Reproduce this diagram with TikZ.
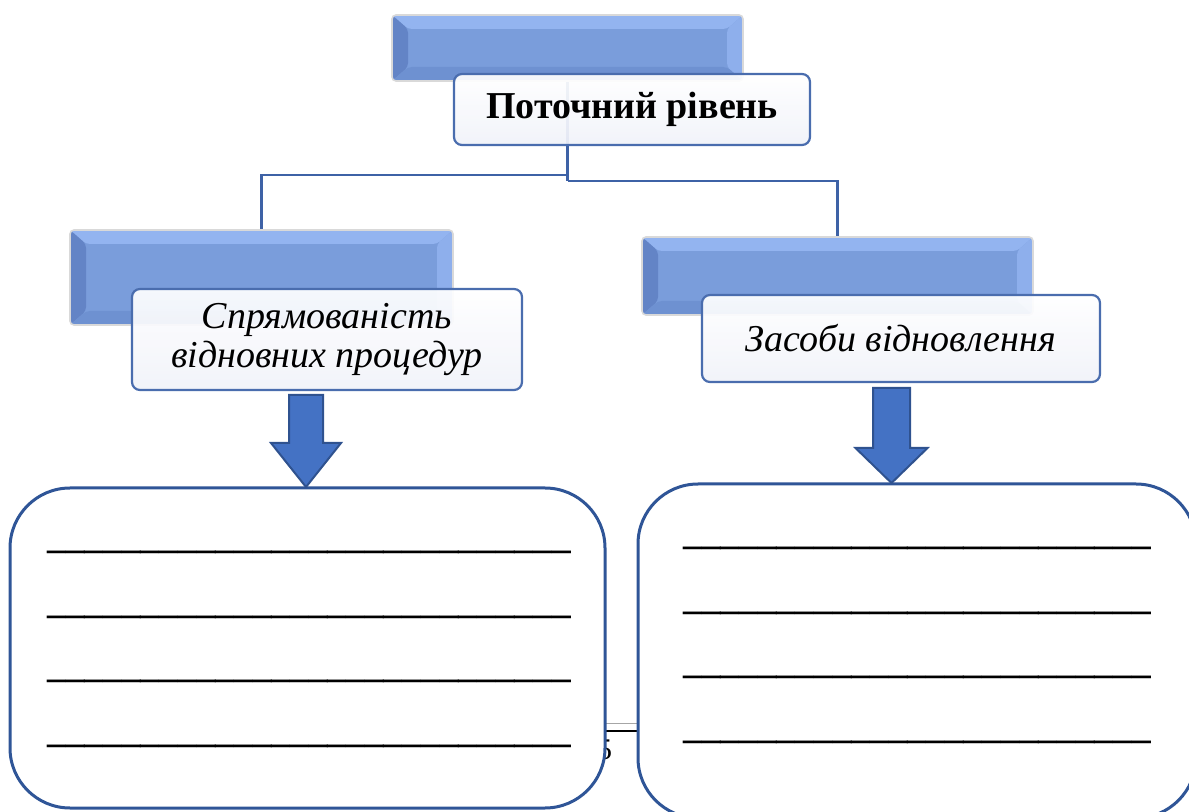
\documentclass[tikz,border=0pt]{standalone}
\usepackage{fontspec}
\setmainfont{Liberation Serif}
\usepackage{tikz}
\usetikzlibrary{calc}
\definecolor{BarMid}{HTML}{7A9DDB}
\definecolor{BarLight}{HTML}{93B4F0}
\definecolor{BarDark}{HTML}{6384C6}
\definecolor{Frame}{HTML}{4A6DAE}
\definecolor{Panel}{HTML}{2F5597}
\definecolor{Wire}{HTML}{3E62A6}
\definecolor{ArrowFill}{HTML}{4472C4}
\definecolor{ArrowEdge}{HTML}{2F528F}
\definecolor{Haze}{HTML}{F0F2F9}

\newcommand\blankline[1]{\foreach \k in {1,...,#1}{\_}}

\begin{document}
\begin{tikzpicture}[x=0.5pt,y=-0.5pt,
  bar/.style={rounded corners=2pt, fill=BarMid, draw=gray!30, line width=0.8pt, inner sep=0pt,
    path picture={
      \coordinate (pnw) at (path picture bounding box.north west);
      \coordinate (pne) at (path picture bounding box.north east);
      \coordinate (psw) at (path picture bounding box.south west);
      \coordinate (pse) at (path picture bounding box.south east);
      \fill[BarLight] (pnw) -- (pne) -- ([shift={(-8pt,-7pt)}]pne) -- ([shift={(8pt,-7pt)}]pnw) -- cycle;
      \fill[BarLight!80!BarMid] (pne) -- (pse) -- ([shift={(-8pt,7pt)}]pse) -- ([shift={(-8pt,-7pt)}]pne) -- cycle;
      \fill[BarDark] (pnw) -- (psw) -- ([shift={(8pt,7pt)}]psw) -- ([shift={(8pt,-7pt)}]pnw) -- cycle;
      \fill[BarDark!50!BarMid] (psw) -- (pse) -- ([shift={(-8pt,7pt)}]pse) -- ([shift={(8pt,7pt)}]psw) -- cycle;
    }},
  textbox/.style={rounded corners=4pt, draw=Frame, line width=1.1pt, top color=white, bottom color=Haze,
    fill opacity=0.93, text opacity=1, inner sep=0pt, align=center},
  panel/.style={draw=Panel, line width=1.5pt, fill=white, rounded corners=30pt, inner sep=0pt},
  wire/.style={draw=Wire, line width=1.3pt},
  blockarrow/.style={fill=ArrowFill, draw=ArrowEdge, line width=1pt},
  fillin/.style={font=\bfseries\fontsize{18.7}{20}\selectfont, inner sep=0pt, anchor=base west}]

  \useasboundingbox (0,0) rectangle (1189,812);

  % page leftovers behind the panels
  \node[font=\fontsize{15}{15}\selectfont, inner sep=0pt] (pagenum) at (604.5,750) {5};
  \draw[gray!70, line width=0.5pt] (605,723) -- (638,723);
  \draw[black, line width=0.8pt] (605,731) -- (638,731);

  % blue bars
  \node[bar, minimum width=175.5pt, minimum height=33pt] (topbar) at (567.5,48) {};
  \node[bar, minimum width=191.5pt, minimum height=47.5pt] (leftbar) at (261.5,277.5) {};
  \node[bar, minimum width=195.5pt, minimum height=39pt] (rightbar) at (837.5,276) {};

  % connectors
  \coordinate (jl) at (567.5,175);
  \coordinate (jr) at (567.5,181);
  \draw[wire] (topbar.south) -- (jr);
  \draw[wire] (jl) -| (leftbar.north);
  \draw[wire] (jr) -| (rightbar.north);

  % captions
  \node[textbox, minimum width=178pt, minimum height=35.5pt, font=\bfseries\fontsize{19}{20}\selectfont]
    (topbox) at (632,109.5) {Поточний рівень};
  \node[textbox, minimum width=195pt, minimum height=50.5pt, font=\itshape\fontsize{19}{19.5}\selectfont]
    (leftbox) at (327,339.5) {Спрямованість\\відновних процедур};
  \node[textbox, minimum width=199pt, minimum height=43.5pt, font=\itshape\fontsize{19}{19.5}\selectfont]
    (rightbox) at (901,338.5) {Засоби відновлення};

  % answer panels
  \node[panel, minimum width=297.5pt, minimum height=160pt] (leftpanel) at (307.5,648) {};
  \node[panel, minimum width=279pt, minimum height=167pt] (rightpanel) at (917,651) {};

  \foreach \i/\y in {1/548,2/613,3/677,4/742}
    \node[fillin] (lline\i) at (47,\y) {\blankline{28}};
  \foreach \i/\y in {1/544.5,2/609.5,3/673.5,4/738.5}
    \node[fillin] (rline\i) at (683,\y) {\blankline{25}};

  % block arrows
  \coordinate (ltip) at (306,487);
  \coordinate (rtip) at (891.5,483);
  \foreach \t/\hh/\hw/\sw/\sh in {ltip/44/35/17/48,rtip/35/36/18.5/60}
    \draw[blockarrow] (\t) -- ++(-\hw,-\hh) -- ++(\hw-\sw,0) -- ++(0,-\sh)
      -- ++(2*\sw,0) -- ++(0,\sh) -- ++(\hw-\sw,0) -- cycle;
\end{tikzpicture}
\end{document}
